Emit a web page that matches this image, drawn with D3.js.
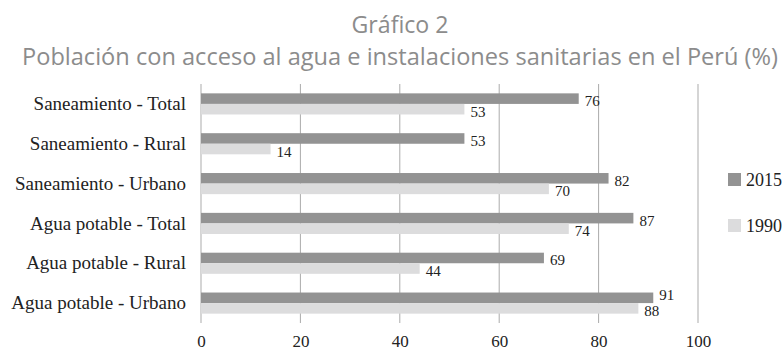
<!DOCTYPE html>
<html>
<head>
<meta charset="utf-8">
<script src="https://cdn.jsdelivr.net/npm/d3@7"></script>
<style>
  body { margin: 0; background: #fff; }
  svg { display: block; }
</style>
</head>
<body>
<div id="chart"></div>
<script>
// data
var categories = ["Saneamiento - Total", "Saneamiento - Rural", "Saneamiento - Urbano",
                  "Agua potable - Total", "Agua potable - Rural", "Agua potable - Urbano"];
var seriesNames = ["2015", "1990"];
var values2015 = [76, 53, 82, 87, 69, 91];
var values1990 = [53, 14, 70, 74, 44, 88];
var xTicks = [0, 20, 40, 60, 80, 100];

var W = 782, H = 352;
var colors = {"2015": "#939393", "1990": "#dcdcdd"};
var serif = "'Liberation Serif', 'DejaVu Serif', serif";

var svg = d3.select("#chart")
  .append("svg")
    .attr("width", W)
    .attr("height", H);

// titles
svg.append("text")
    .attr("x", 400).attr("y", 33)
    .attr("text-anchor", "middle")
    .attr("font-family", "'Open Sans', sans-serif")
    .attr("font-size", 23)
    .attr("fill", "#8c8c8c")
    .attr("textLength", 97)
    .attr("lengthAdjust", "spacingAndGlyphs")
    .text("Gráfico 2");

svg.append("text")
    .attr("x", 400).attr("y", 65)
    .attr("text-anchor", "middle")
    .attr("font-family", "'Open Sans', sans-serif")
    .attr("font-size", 23)
    .attr("fill", "#8c8c8c")
    .attr("textLength", 756)
    .attr("lengthAdjust", "spacingAndGlyphs")
    .text("Población con acceso al agua e instalaciones sanitarias en el Perú (%)");

var x = d3.scaleLinear()
  .domain([0, 100])
  .range([201, 698]);

var y = d3.scaleBand()
  .domain(categories)
  .range([84, 323])
  .paddingInner(0.47)
  .paddingOuter(0.235);

var sub = d3.scaleBand()
  .domain(seriesNames)
  .range([0, y.bandwidth()]);

// gridlines
svg.append("g")
  .selectAll("line")
  .data(xTicks)
  .enter()
  .append("line")
    .attr("x1", function(d) { return x(d); })
    .attr("x2", function(d) { return x(d); })
    .attr("y1", 84)
    .attr("y2", 323)
    .attr("stroke", "#ababab")
    .attr("stroke-width", 1);

// x tick labels
var xAxis = svg.append("g")
  .attr("transform", "translate(0,323)")
  .call(d3.axisBottom(x).tickValues(xTicks).tickSize(0).tickPadding(12));
xAxis.select(".domain").remove();
xAxis.selectAll("text")
  .attr("font-family", serif)
  .attr("font-size", 17)
  .attr("fill", "#222");

// category labels
var yAxis = svg.append("g")
  .attr("transform", "translate(201,0)")
  .call(d3.axisLeft(y).tickSize(0).tickPadding(15));
yAxis.select(".domain").remove();
yAxis.selectAll("text")
  .attr("font-family", serif)
  .attr("font-size", 19)
  .attr("fill", "#222");

var rows = categories.map(function(c, i) {
  return {cat: c, "2015": values2015[i], "1990": values1990[i]};
});

var groups = svg.append("g")
  .selectAll("g")
  .data(rows)
  .enter()
  .append("g")
    .attr("transform", function(d) { return "translate(0," + y(d.cat) + ")"; });

groups.selectAll("rect")
  .data(function(d) { return seriesNames.map(function(s) { return {s: s, v: d[s]}; }); })
  .enter()
  .append("rect")
    .attr("x", x(0))
    .attr("y", function(d) { return sub(d.s); })
    .attr("width", function(d) { return x(d.v) - x(0); })
    .attr("height", sub.bandwidth())
    .attr("fill", function(d) { return colors[d.s]; });

// value labels
groups.selectAll("text.val")
  .data(function(d) {
    return seriesNames.map(function(s) { return {s: s, v: d[s], close: Math.abs(d["2015"] - d["1990"]) < 5}; });
  })
  .enter()
  .append("text")
    .attr("class", "val")
    .attr("x", function(d) { return x(d.v) + 6; })
    .attr("y", function(d) {
      var c = sub(d.s) + sub.bandwidth() / 2;
      if (d.s == "2015" && d.close) return c + 2;
      return c + 7.5;
    })
    .attr("font-family", serif)
    .attr("font-size", 15)
    .attr("fill", "#222")
    .text(function(d) { return d.v; });

// legend
var legend = svg.append("g")
  .selectAll("g")
  .data(seriesNames)
  .enter()
  .append("g")
    .attr("transform", function(d, i) { return "translate(728," + (173 + i * 46) + ")"; });

legend.append("rect")
    .attr("width", 13)
    .attr("height", 13)
    .attr("fill", function(d) { return colors[d]; });

legend.append("text")
    .attr("x", 18)
    .attr("y", 13)
    .attr("font-family", serif)
    .attr("font-size", 18)
    .attr("fill", "#222")
    .text(function(d) { return d; });
</script>
</body>
</html>
